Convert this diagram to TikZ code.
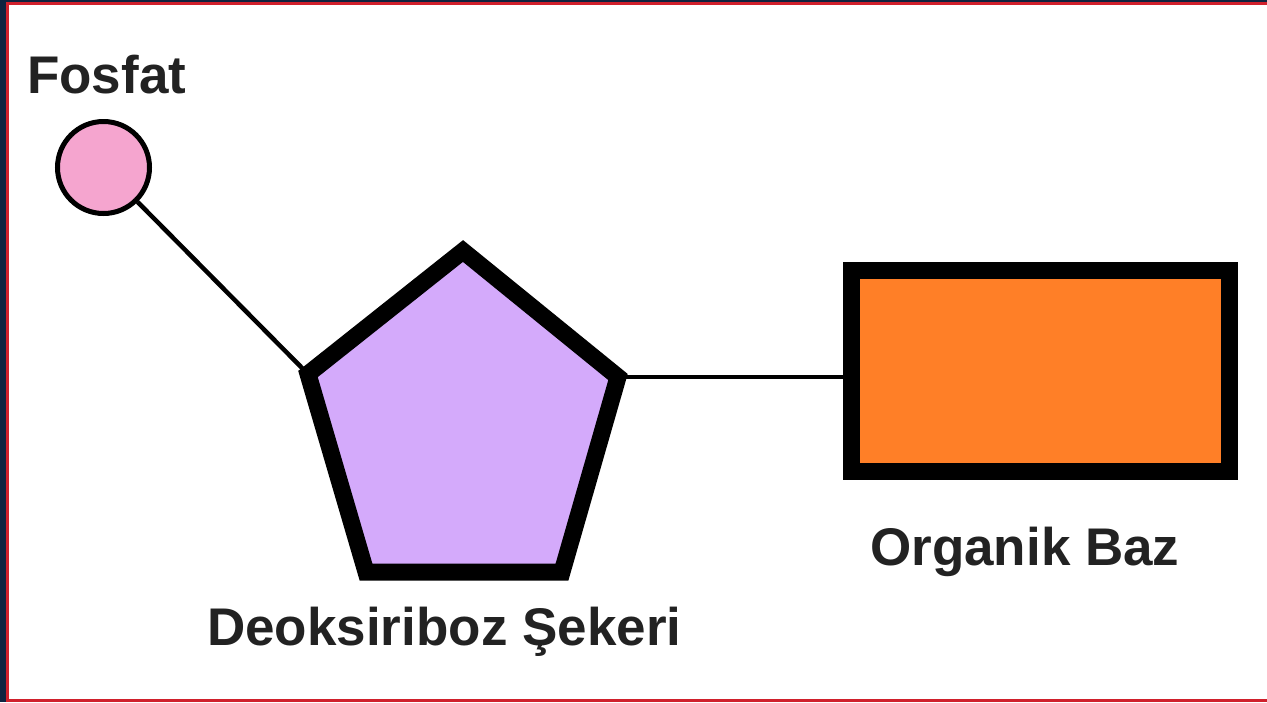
\documentclass[tikz,border=0pt]{standalone}
\usepackage{fontspec}
\setmainfont{Liberation Sans}
\definecolor{navy}{HTML}{0F2340}
\definecolor{framered}{HTML}{D0202C}
\definecolor{pinkfill}{HTML}{F5A5CF}
\definecolor{purplefill}{HTML}{D4AAFB}
\definecolor{orangefill}{HTML}{FF7F27}
\definecolor{txt}{HTML}{222222}
\tikzset{
  lbl/.style={anchor=base west, inner sep=0pt, text=txt, font=\fontsize{53}{60}\selectfont\bfseries},
  bond/.style={draw=black, line width=4.5pt},
  phos/.style={circle, draw=black, line width=5pt, fill=pinkfill, minimum size=92pt, inner sep=0pt},
  base/.style={rectangle, draw=black, line width=17pt, fill=orangefill, minimum width=378pt, minimum height=201pt, inner sep=0pt},
  sugar/.style={draw=black, line width=17pt, fill=purplefill, line join=miter}
}
\begin{document}
\begin{tikzpicture}[x=1pt,y=-1pt]
  \useasboundingbox (0,0) rectangle (1267,702);
  \fill[navy] (0,0) rectangle (1267,702);
  \filldraw[fill=white, draw=framered, line width=3pt] (7.5,3.5) rectangle (1272,700.5);
  % pentagon vertices
  \coordinate (pt) at (463,251);
  \coordinate (pl) at (308,374);
  \coordinate (pr) at (618,377);
  \coordinate (pbl) at (366,572);
  \coordinate (pbr) at (562,572);
  \node[phos] (fosfat) at (103.5,167.5) {};
  \node[base] (baz) at (1040.5,371) {};
  \draw[bond] (fosfat) -- (pl);
  \draw[bond] (pr) -- (baz.west |- pr);
  \filldraw[sugar] (pt) -- (pr) -- (pbr) -- (pbl) -- (pl) -- cycle;
  \node[lbl] (tf) at (27,93) {Fosfat};
  \node[lbl] (ts) at (207,645) {Deoksiriboz Şekeri};
  \node[lbl] (tb) at (870,565) {Organik Baz};
\end{tikzpicture}
\end{document}
